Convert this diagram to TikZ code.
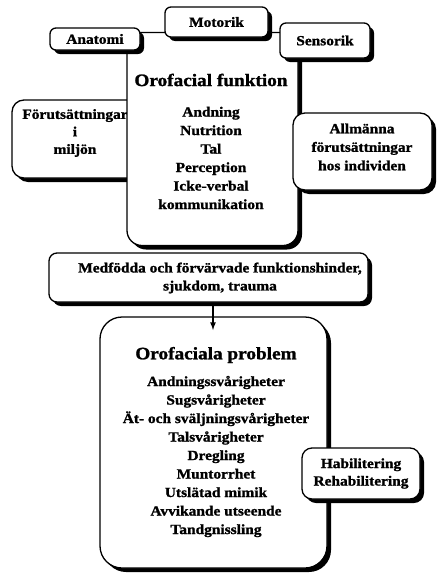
\documentclass[tikz,border=0pt]{standalone}
\usepackage{fontspec}
\setmainfont{Liberation Serif}[FakeStretch=1.1,BoldFeatures={FakeBold=1.3}]
\usetikzlibrary{positioning,shadows}
\newcommand{\diagfont}{\bfseries\fontsize{14}{18.5}\selectfont}
\newcommand{\diaghead}{\bfseries\fontsize{17.5}{20}\selectfont}

\begin{document}
\begin{tikzpicture}[x=1pt,y=-1pt,
  box/.style={draw,line width=1.3pt,fill=white,rounded corners=#1,
    drop shadow={shadow xshift=4pt,shadow yshift=-4pt,opacity=1,fill=black},
    inner sep=0pt,align=center,font=\diagfont},
  box/.default=6pt,
  txt/.style={inner sep=0pt,align=center,font=\diagfont},
  head/.style={inner sep=0pt,font=\diaghead}]
   \useasboundingbox (0,0) rectangle (445,576);
   \node[box=12pt,minimum width=128pt,minimum height=78pt] (foer) at (76,139) {};
   \node[txt] (foertxt) at (75,133) {Förutsättningar\\[-1pt]i\\[-1pt]miljön};
   \node[box=15pt,minimum width=171pt,minimum height=213pt] (fun) at (212.5,139) {};
   \node[head] (funtitle) at (211,80) {Orofacial funktion};
   \node[txt] (funlist) [below=78pt of funtitle.center,anchor=center] {Andning\\Nutrition\\Tal\\Perception\\Icke-verbal\\kommunikation};
   \node[box,minimum width=90pt,minimum height=22pt] (ana) at (95,39) {Anatomi};
   \node[box,minimum width=103pt,minimum height=30pt] (mot) at (216.5,22) {Motorik};
   \node[box,minimum width=90pt,minimum height=35pt] (sen) at (325,40.5) {Sensorik};
   \node[box=12pt,minimum width=139pt,minimum height=77pt] (allm) at (362.5,151.5) {};
   \node[txt] (allmtxt) at (362,147) {Allmänna\\förutsättningar\\hos individen};
   \node[box=8pt,minimum width=319pt,minimum height=49pt] (med) at (208.5,277.5) {};
   \node[txt] (medtxt) at (220,278) {Medfödda och förvärvade funktionshinder,\\[-0.5pt]sjukdom, trauma};
   \node[box=22pt,minimum width=227pt,minimum height=251pt] (prob) at (213.5,442.5) {};
   \node[head] (probtitle) at (216,355) {Orofaciala problem};
   \node[txt] (problist) [below=101.5pt of probtitle.center,anchor=center] {Andningssvårigheter\\Sugsvårigheter\\Ät- och sväljningsvårigheter\\Talsvårigheter\\Dregling\\Muntorrhet\\Utslätad mimik\\Avvikande utseende\\Tandgnissling};
   \node[box=10pt,minimum width=118pt,minimum height=51pt] (hab) at (361,473.5) {Habilitering\\[-1pt]Rehabilitering};
   \coordinate (tip) at (213,330);
   \draw[-latex,line width=1.6pt] (med.south -| tip) -- (tip);
\end{tikzpicture}
\end{document}
